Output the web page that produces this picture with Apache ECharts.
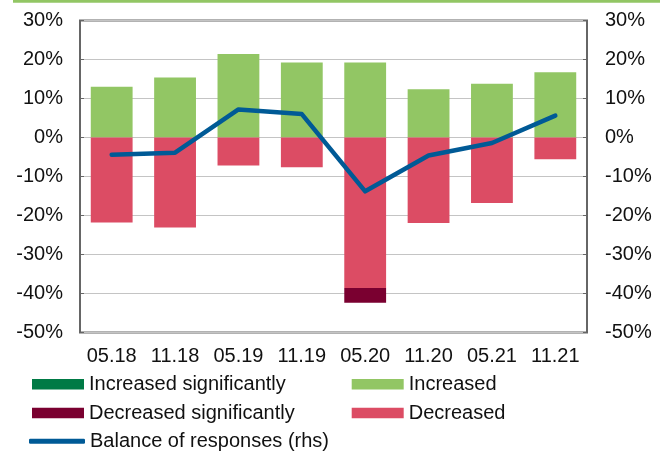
<!DOCTYPE html>
<html>
<head>
<meta charset="utf-8">
<script src="https://cdn.jsdelivr.net/npm/echarts@6/dist/echarts.min.js"></script>
<style>
  html, body { margin: 0; padding: 0; background: #fff; }
  #chart { width: 667px; height: 453px; }
</style>
</head>
<body>
<div id="chart"></div>
<script>
const categories = ['05.18', '11.18', '05.19', '11.19', '05.20', '11.20', '05.21', '11.21'];
const increasedSig = [0, 0, 0, 0, 0, 0, 0, 0];
const increased = [13.0, 15.4, 21.4, 19.2, 19.2, 12.4, 13.8, 16.7];
const decreased = [-21.8, -23.1, -7.2, -7.6, -38.6, -21.9, -16.8, -5.6];
const decreasedSig = [0, 0, 0, 0, -3.8, 0, 0, 0];
const balance = [-4.4, -3.9, 7.2, 6.0, -13.8, -4.6, -1.4, 5.6];

const font = 'Liberation Sans, Arial, sans-serif';
const textColor = '#111';

const chart = echarts.init(document.getElementById('chart'));

const yAxisBase = {
  type: 'value',
  min: -50,
  max: 30,
  interval: 10,
  axisLine: {show: false},
  axisTick: {show: true, inside: true, length: 4, lineStyle: {color: '#666', width: 1}},
  axisLabel: {
    color: textColor, fontFamily: font, fontSize: 20,
    formatter: v => v + '%'
  }
};

// one legend box per entry so the two-column layout matches
function legendItem(name, left, top, opts) {
  return Object.assign({
    left: left, top: top, itemWidth: 52, itemHeight: 10.5,
    padding: 0, icon: 'rect',
    textStyle: {color: textColor, fontFamily: font, fontSize: 20},
    data: [name]
  }, opts || {});
}

chart.setOption({
  animation: false,
  graphic: [{
    type: 'rect',
    shape: {x: 13, y: 0, width: 647, height: 2.7},
    style: {fill: '#92C664'}
  }],
  grid: {
    left: 80, right: 80, top: 20.5, height: 312,
    show: true, borderColor: '#666', borderWidth: 2, backgroundColor: 'transparent'
  },
  legend: [
    legendItem('Increased significantly', 32, 374.2),
    legendItem('Decreased significantly', 32, 403),
    legendItem('Balance of responses (rhs)', 29, 431.3, {itemWidth: 56, itemHeight: 5, icon: 'roundRect'}),
    legendItem('Increased', 351.7, 374.2),
    legendItem('Decreased', 351.7, 403)
  ],
  xAxis: {
    type: 'category',
    data: categories,
    axisLine: {show: false},
    axisTick: {show: false},
    axisLabel: {color: textColor, fontFamily: font, fontSize: 20, margin: 14, interval: 0}
  },
  yAxis: [
    Object.assign({}, yAxisBase, {
      position: 'left',
      splitLine: {show: true, lineStyle: {color: '#C4C4C4', width: 1}},
      axisLabel: Object.assign({}, yAxisBase.axisLabel, {margin: 17})
    }),
    Object.assign({}, yAxisBase, {
      position: 'right',
      splitLine: {show: false},
      axisLabel: Object.assign({}, yAxisBase.axisLabel, {margin: 18})
    })
  ],
  series: [
    {name: 'Increased significantly', type: 'bar', stack: 'all', barWidth: '66%',
      itemStyle: {color: '#007A45'}, data: increasedSig},
    {name: 'Increased', type: 'bar', stack: 'all', barWidth: '66%',
      itemStyle: {color: '#92C664'}, data: increased},
    {name: 'Decreased', type: 'bar', stack: 'all', barWidth: '66%',
      itemStyle: {color: '#DC4C64'}, data: decreased},
    {name: 'Decreased significantly', type: 'bar', stack: 'all', barWidth: '66%',
      itemStyle: {color: '#7A0030'}, data: decreasedSig},
    {name: 'Balance of responses (rhs)', type: 'line', yAxisIndex: 1,
      symbol: 'none', z: 5,
      lineStyle: {color: '#005A96', width: 4.5, cap: 'round', join: 'round'},
      itemStyle: {color: '#005A96'},
      data: balance}
  ]
});
</script>
</body>
</html>
